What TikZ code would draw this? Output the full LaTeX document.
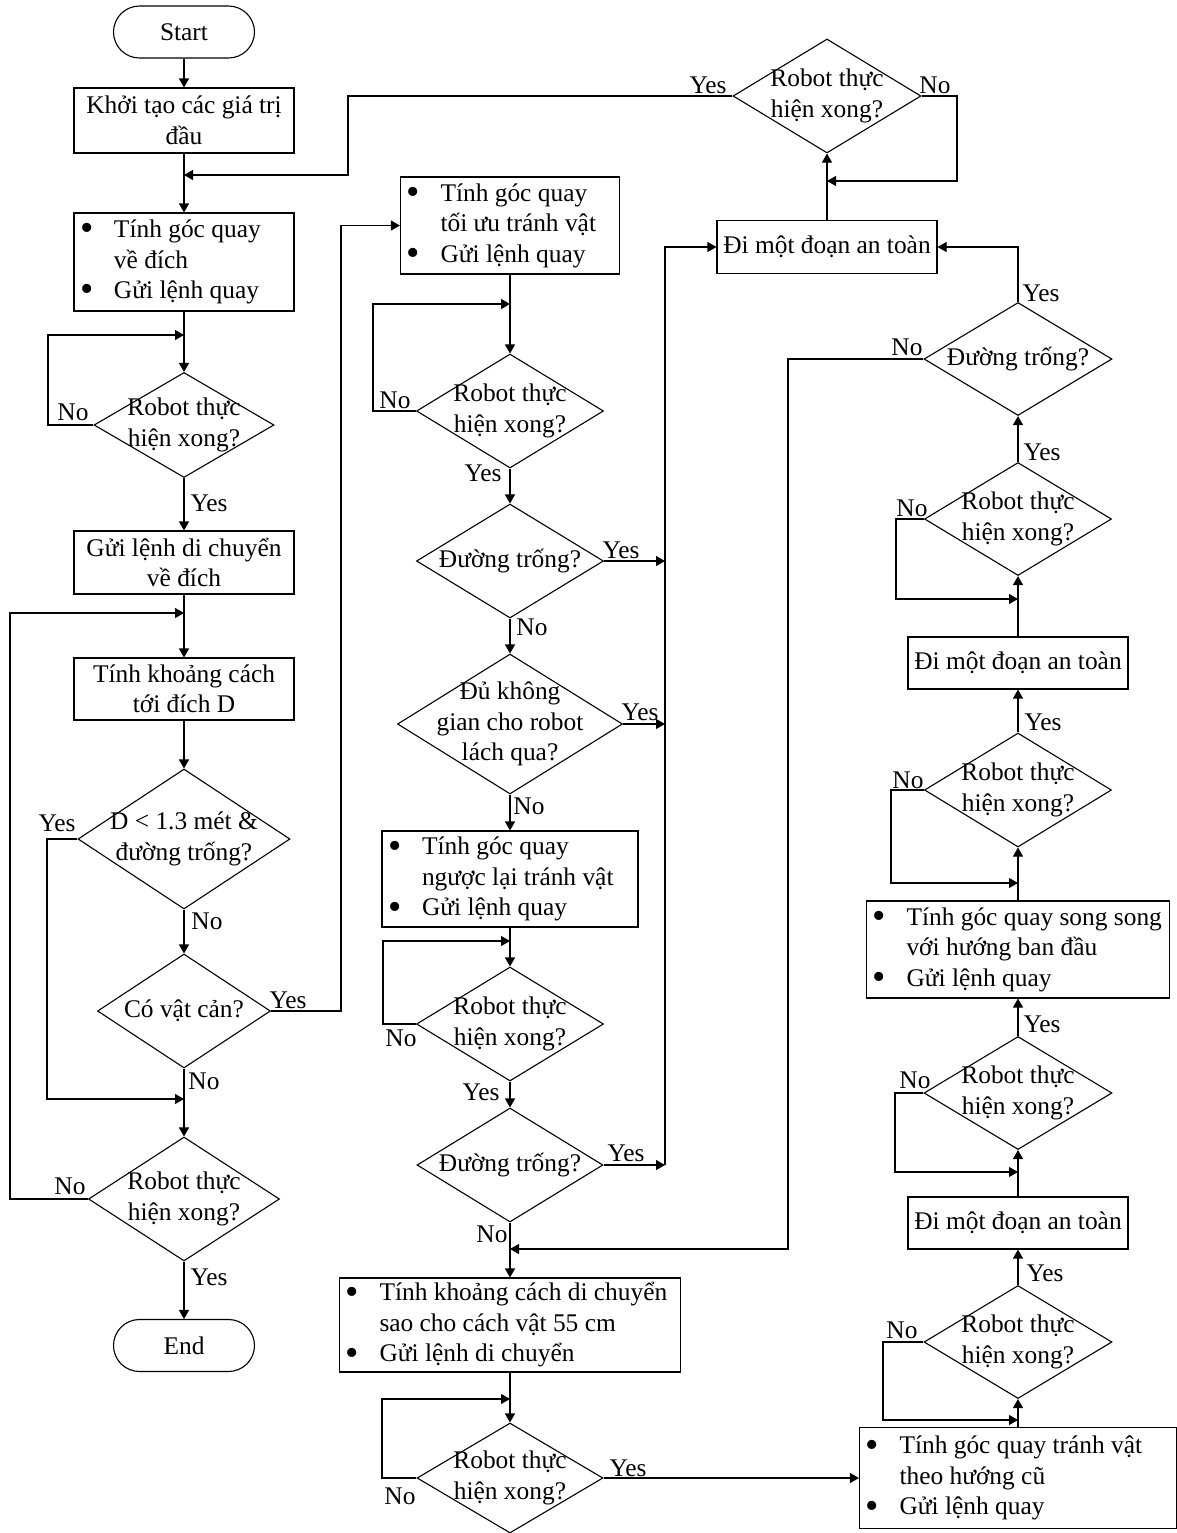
\documentclass[tikz,border=0pt]{standalone}
\usepackage{fontspec}
\usepackage{graphicx}
\setmainfont{Liberation Serif}
\usetikzlibrary{arrows.meta,shapes.geometric}
% bullet line and continuation line inside the process boxes
\newcommand\bigbul{\raisebox{-1.7pt}{\scalebox{1.5}{\textbullet}}}
\newcommand\bitem[1]{\makebox[17pt][l]{\bigbul}\mbox{\spaceskip=0pt\relax #1}}
\newcommand\bcont[1]{\hspace*{17pt}\mbox{\spaceskip=0pt\relax #1}}

\begin{document}
\begin{tikzpicture}[x=0.5pt,y=-0.5pt,
  font=\fontsize{12.7pt}{15.25pt}\selectfont,
  line width=0.55pt,
  arr/.style={-{Triangle[length=4.5pt,width=5pt]}},
  proc/.style={draw, rectangle, inner sep=0pt, align=center},
  bproc/.style={draw, rectangle, inner xsep=3pt, inner ysep=0pt, align=left},
  term/.style={draw, rectangle, rounded corners=13pt, minimum width=70.5pt, minimum height=26pt, inner sep=0pt},
  dec/.style={draw, diamond, inner sep=0pt},
  dtext/.style={align=center, inner sep=0pt},
  lab/.style={inner sep=0pt},
]
\useasboundingbox (0,0) rectangle (1177,1533);

% ---------------- left column ----------------
\node[term] (start) at (184,32) {Start};
\node[proc, minimum width=110pt, minimum height=32.5pt] (init) at (184,120.5) {Khởi tạo các giá trị\\đầu};
\node[bproc, text width=104pt, minimum height=49pt] (b1) at (184,262)
  {\bitem{Tính góc quay}\\\bcont{về đích}\\\bitem{Gửi lệnh quay}};
\node[dec, minimum width=90pt, minimum height=52.5pt,
  label={[dtext]center:{Robot thực\\hiện xong?}}] (d1) at (184,425) {};
\node[proc, minimum width=110pt, minimum height=31.5pt] (b2) at (184,562.5) {Gửi lệnh di chuyển\\về đích};
\node[proc, minimum width=110pt, minimum height=31pt] (b3) at (184,689) {Tính khoảng cách\\tới đích D};
\node[dec, minimum width=106pt, minimum height=70pt,
  label={[dtext]center:{D < 1.3 mét \&\\đường trống?}}] (dD) at (184,839) {};
\node[dec, minimum width=86.5pt, minimum height=57pt,
  label={[dtext]center:{Có vật cản?}}] (dC) at (184,1011) {};
\node[dec, minimum width=95.5pt, minimum height=62pt,
  label={[dtext]center:{Robot thực\\hiện xong?}}] (d4) at (184,1199) {};
\node[term] (end) at (184,1345.5) {End};

% ---------------- middle column ----------------
\node[bproc, text width=103.5pt, minimum height=48.5pt] (M1) at (510,225.5)
  {\bitem{Tính góc quay}\\\bcont{tối ưu tránh vật}\\\bitem{Gửi lệnh quay}};
\node[dec, minimum width=93.5pt, minimum height=57pt,
  label={[dtext]center:{Robot thực\\hiện xong?}}] (md1) at (510,411) {};
\node[dec, minimum width=93.5pt, minimum height=57pt,
  label={[dtext]center:{Đường trống?}}] (mE1) at (510,561) {};
\node[dec, minimum width=112.5pt, minimum height=70pt,
  label={[dtext]center:{Đủ không\\gian cho robot\\lách qua?}}] (mS) at (510,724) {};
\node[bproc, text width=122pt, minimum height=48pt] (M2) at (510,879)
  {\bitem{Tính góc quay}\\\bcont{ngược lại tránh vật}\\\bitem{Gửi lệnh quay}};
\node[dec, minimum width=93.5pt, minimum height=57pt,
  label={[dtext]center:{Robot thực\\hiện xong?}}] (md2) at (510,1024) {};
\node[dec, minimum width=93pt, minimum height=57pt,
  label={[dtext]center:{Đường trống?}}] (mE2) at (510,1165) {};
\node[bproc, text width=164.5pt, minimum height=47pt] (M3) at (510,1325)
  {\bitem{Tính khoảng cách di chuyển}\\\bcont{sao cho cách vật 55 cm}\\\bitem{Gửi lệnh di chuyển}};
\node[dec, minimum width=93pt, minimum height=55pt,
  label={[dtext]center:{Robot thực\\hiện xong?}}] (md3) at (510,1478) {};

% ---------------- right column ----------------
\node[dec, minimum width=94pt, minimum height=57pt,
  label={[dtext]center:{Robot thực\\hiện xong?}}] (rT) at (827,96) {};
\node[proc, minimum width=110pt, minimum height=26.5pt] (R1) at (827,247) {Đi một đoạn an toàn};
\node[dec, minimum width=94pt, minimum height=56.5pt,
  label={[dtext]center:{Đường trống?}}] (rE) at (1018,359) {};
\node[dec, minimum width=93.5pt, minimum height=56.5pt,
  label={[dtext]center:{Robot thực\\hiện xong?}}] (ra) at (1018,519) {};
\node[proc, minimum width=110pt, minimum height=26pt] (R2) at (1018,663) {Đi một đoạn an toàn};
\node[dec, minimum width=93.5pt, minimum height=57pt,
  label={[dtext]center:{Robot thực\\hiện xong?}}] (rb) at (1018,790) {};
\node[bproc, text width=145.5pt, minimum height=48.5pt] (R3) at (1018,949.5)
  {\bitem{Tính góc quay song song}\\\bcont{với hướng ban đầu}\\\bitem{Gửi lệnh quay}};
\node[dec, minimum width=94pt, minimum height=56.5pt,
  label={[dtext]center:{Robot thực\\hiện xong?}}] (rc) at (1018,1093) {};
\node[proc, minimum width=110pt, minimum height=26pt] (R4) at (1018,1223) {Đi một đoạn an toàn};
\node[dec, minimum width=94pt, minimum height=56.5pt,
  label={[dtext]center:{Robot thực\\hiện xong?}}] (rd) at (1018,1342) {};
\node[bproc, text width=152.5pt, minimum height=50.5pt] (R5) at (1018,1478)
  {\bitem{Tính góc quay tránh vật}\\\bcont{theo hướng cũ}\\\bitem{Gửi lệnh quay}};

% ---------------- junction points ----------------
\coordinate (j1) at (184,175);
\coordinate (j2) at (184,335);
\coordinate (j3) at (184,613);
\coordinate (j4) at (184,1099);
\coordinate (j5) at (510,304);
\coordinate (j6) at (510,941);
\coordinate (j7) at (510,1399);
\coordinate (j8) at (510,1249);
\coordinate (j9) at (1018,599);
\coordinate (j10) at (1018,883);
\coordinate (j11) at (1018,1172);
\coordinate (j12) at (1018,1420);
\coordinate (jT) at (827,181);
\coordinate (bus) at (665,0);

% ---------------- connectors: left ----------------
\draw[arr] (start) -- (init);
\draw[arr] (init) -- (b1);
\draw[arr] (rT.west) -| (348,175) -- (j1);
\draw[arr] (b1) -- (d1);
\draw[arr] (d1.west) -| (48,335) -- (j2);
\draw[arr] (d1) -- (b2);
\draw[arr] (b2) -- (b3);
\draw[arr] (d4.west) -| (10,613) -- (j3);
\draw[arr] (b3) -- (dD);
\draw[arr] (dD) -- (dC);
\draw[arr] (dD.west) -| (47,1099) -- (j4);
\draw[arr] (dC) -- (d4);
\draw[arr] (dC.east) -| (341,225.5) -- (M1.west);
\draw[arr] (d4) -- (end);

% ---------------- connectors: middle ----------------
\draw[arr] (M1) -- (md1);
\draw[arr] (md1.west) -| (373,304) -- (j5);
\draw[arr] (md1) -- (mE1);
\draw[arr] (mE1.east) -- (mE1.east -| bus);
\draw[arr] (mE1) -- (mS);
\draw[arr] (mS.east) -- (mS.east -| bus);
\draw[arr] (mS) -- (M2);
\draw[arr] (M2) -- (md2);
\draw[arr] (md2.west) -| (383,941) -- (j6);
\draw[arr] (md2) -- (mE2);
\draw[arr] (mE2.east) -- (mE2.east -| bus);
\draw[arr] (mE2.east -| bus) -- (R1.west -| bus) -- (R1.west);
\draw[arr] (mE2) -- (M3);
\draw[arr] (rE.west) -| (788,1249) -- (j8);
\draw[arr] (M3) -- (md3);
\draw[arr] (md3.west) -| (382,1399) -- (j7);
\draw[arr] (md3.east) -- (R5.west);

% ---------------- connectors: right ----------------
\draw[arr] (R5) -- (rd);
\draw[arr] (rd.west) -| (883,1420) -- (j12);
\draw[arr] (rd) -- (R4);
\draw[arr] (R4) -- (rc);
\draw[arr] (rc.west) -| (895,1172) -- (j11);
\draw[arr] (rc) -- (R3);
\draw[arr] (R3) -- (rb);
\draw[arr] (rb.west) -| (891,883) -- (j10);
\draw[arr] (rb) -- (R2);
\draw[arr] (R2) -- (ra);
\draw[arr] (ra.west) -| (896,599) -- (j9);
\draw[arr] (ra) -- (rE);
\draw[arr] (rE.north) |- (R1.east);
\draw[arr] (R1) -- (rT);
\draw[arr] (rT.east) -| (957,181) -- (jT);

% ---------------- branch labels ----------------
\node[lab] (n1) at (73,412) {No};
\node[lab] (y1) at (209,503) {Yes};
\node[lab] (y2) at (57,823) {Yes};
\node[lab] (n2) at (207,921) {No};
\node[lab] (y3) at (288,1000) {Yes};
\node[lab] (n3) at (204,1081) {No};
\node[lab] (n4) at (70,1186) {No};
\node[lab] (y4) at (209,1277) {Yes};

\node[lab] (n5) at (395,400) {No};
\node[lab] (y5) at (483,473) {Yes};
\node[lab] (y6) at (621,550) {Yes};
\node[lab] (n6) at (532,627) {No};
\node[lab] (y7) at (640,712) {Yes};
\node[lab] (n7) at (529,806) {No};
\node[lab] (n8) at (401,1038) {No};
\node[lab] (y8) at (481,1092) {Yes};
\node[lab] (y9) at (626,1153) {Yes};
\node[lab] (n9) at (492,1234) {No};
\node[lab] (y10) at (628,1468) {Yes};
\node[lab] (n10) at (400,1496) {No};

\node[lab] (y11) at (708,85) {Yes};
\node[lab] (n11) at (935,85) {No};
\node[lab] (y12) at (1041,293) {Yes};
\node[lab] (n12) at (907,347) {No};
\node[lab] (y13) at (1042,452) {Yes};
\node[lab] (n13) at (912,508) {No};
\node[lab] (y14) at (1043,722) {Yes};
\node[lab] (n14) at (908,780) {No};
\node[lab] (y15) at (1042,1024) {Yes};
\node[lab] (n15) at (915,1080) {No};
\node[lab] (y16) at (1045,1273) {Yes};
\node[lab] (n16) at (902,1330) {No};
\end{tikzpicture}
\end{document}
